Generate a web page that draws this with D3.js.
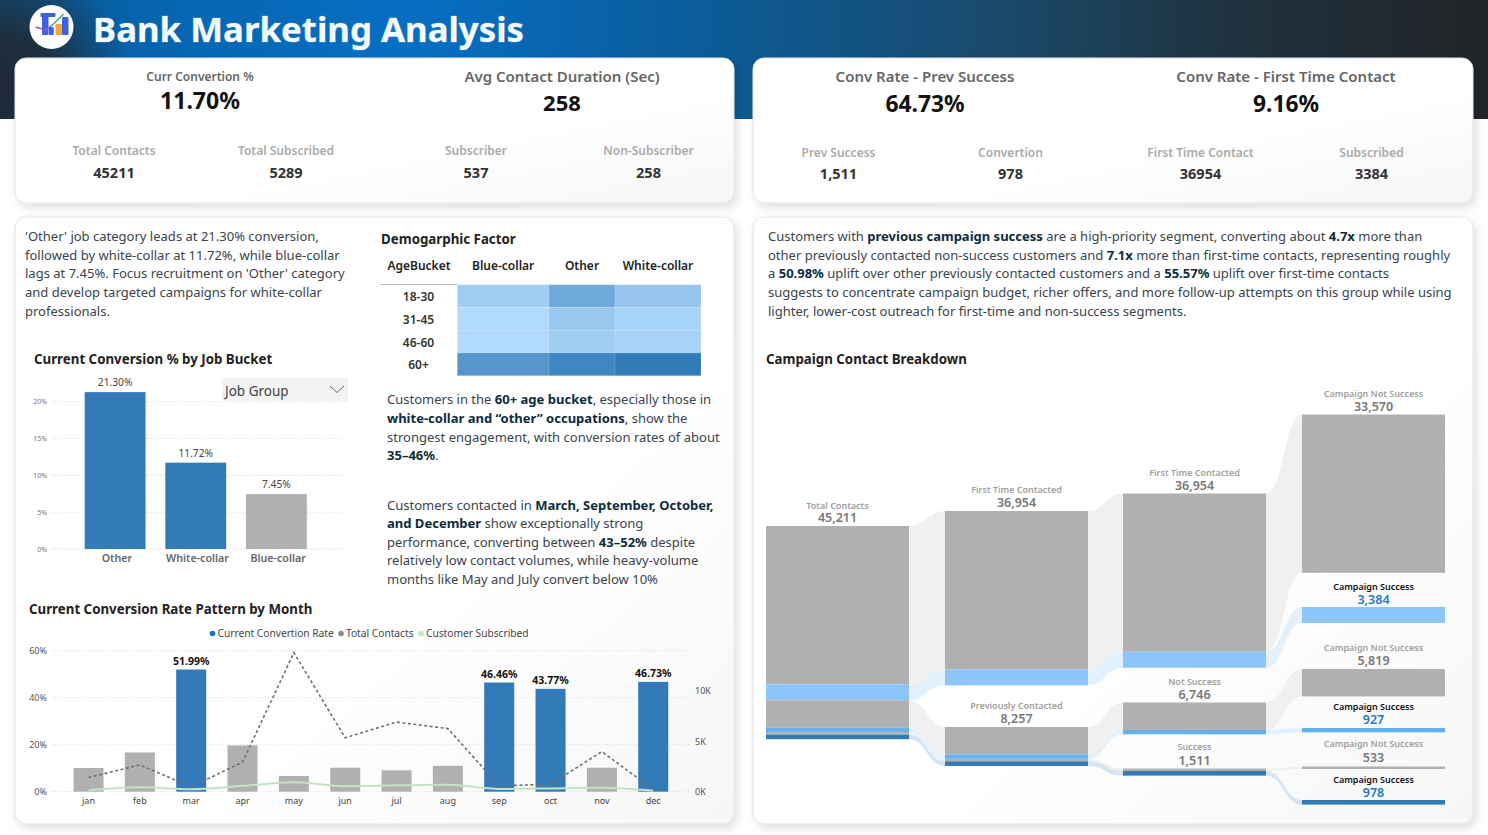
<!DOCTYPE html>
<html><head><meta charset="utf-8">
<script src="https://cdn.jsdelivr.net/npm/d3@7"></script>
<style>html,body{margin:0;padding:0;background:#fff;overflow:hidden}svg{display:block}text{font-family:"Noto Sans",sans-serif}</style>
</head><body><svg id="c" width="1488" height="835"></svg>
<script>
// ---------- data ----------
const jobCats = ["Other","White-collar","Blue-collar"];
const jobRates = [21.30,11.72,7.45];
const jobTicks = [0,5,10,15,20];
const ageBuckets = ["18-30","31-45","46-60","60+"];
const heatCols = ["Blue-collar","Other","White-collar"];
const heatBlue = [11.6,6,6,34.8];
const heatOther = [26.6,13.5,11.2,41.3];
const heatWhite = [14.4,9.1,8.8,46];
const months = ["jan","feb","mar","apr","may","jun","jul","aug","sep","oct","nov","dec"];
const monthRate = [10.1,16.7,51.99,19.7,6.7,10.2,9.1,11.0,46.46,43.77,10.2,46.73];
const monthContacts = [1403,2649,477,2932,13766,5341,6895,6247,579,738,3970,214];
const monthSubscribed = [142,441,248,577,925,546,627,688,269,323,403,100];
const topMonths = ["mar","sep","oct","dec"];
const sankeyFirst = [33570,3384];
const sankeyPrev = [5819,927,533,978];
const kpis = [
 ["Curr Convertion %","11.70%"],["Avg Contact Duration (Sec)","258"],
 ["Conv Rate - Prev Success","64.73%"],["Conv Rate - First Time Contact","9.16%"]];
const subKpis = [
 ["Total Contacts","45211"],["Total Subscribed","5289"],["Subscriber","537"],["Non-Subscriber","258"],
 ["Prev Success","1,511"],["Convertion","978"],["First Time Contact","36954"],["Subscribed","3384"]];
const paraLeft = ["'Other' job category leads at 21.30% conversion,","followed by white-collar at 11.72%, while blue-collar","lags at 7.45%. Focus recruitment on 'Other' category","and develop targeted campaigns for white-collar","professionals."];
const paraMid1 = ["Customers in the **60+ age bucket**, especially those in","**white-collar and “other” occupations**, show the","strongest engagement, with conversion rates of about","**35–46%**."];
const paraMid2 = ["Customers contacted in **March, September, October,**","**and December** show exceptionally strong","performance, converting between **43–52%** despite","relatively low contact volumes, while heavy-volume","months like May and July convert below 10%"];
const paraRight = ["Customers with **previous campaign success** are a high-priority segment, converting about **4.7x** more than","other previously contacted non-success customers and **7.1x** more than first-time contacts, representing roughly","a **50.98%** uplift over other previously contacted customers and a **55.57%** uplift over first-time contacts","suggests to concentrate campaign budget, richer offers, and more follow-up attempts on this group while using","lighter, lower-cost outreach for first-time and non-success segments."];

// ---------- helpers ----------
const svg = d3.select("#c");
const defs = svg.append("defs");
const hg = defs.append("linearGradient").attr("id","hdr").attr("x1",0).attr("x2",1).attr("y1",0).attr("y2",0);
[[0,"#0f4f80"],[0.09,"#0664ad"],[0.27,"#066fc4"],[0.47,"#0b5c9a"],[0.67,"#1a4a6c"],[0.82,"#1f3340"],[1,"#222427"]].forEach(s=>
  hg.append("stop").attr("offset",s[0]).attr("stop-color",s[1]));
const hl = defs.append("radialGradient").attr("id","hdrL").attr("gradientUnits","userSpaceOnUse").attr("cx",0).attr("cy",85).attr("r",130);
hl.append("stop").attr("offset","0%").attr("stop-color","#20293a").attr("stop-opacity",1);
hl.append("stop").attr("offset","35%").attr("stop-color","#1f2c38").attr("stop-opacity",.95);
hl.append("stop").attr("offset","100%").attr("stop-color","#1f2c38").attr("stop-opacity",0);
const cg = defs.append("linearGradient").attr("id","card").attr("x1",0).attr("y1",0).attr("x2",1).attr("y2",1);
cg.append("stop").attr("offset","0%").attr("stop-color","#ffffff");
cg.append("stop").attr("offset","60%").attr("stop-color","#ffffff");
cg.append("stop").attr("offset","100%").attr("stop-color","#f6f6f7");
const sh = defs.append("filter").attr("id","shadow").attr("x","-5%").attr("y","-5%").attr("width","110%").attr("height","115%");
sh.append("feDropShadow").attr("dx",3).attr("dy",4).attr("stdDeviation",5).attr("flood-color","#000").attr("flood-opacity",0.13);

function txt(x,y,s,o={}){
  return svg.append("text").attr("x",x).attr("y",y-1).attr("text-anchor",o.a||"middle").attr("dominant-baseline","central")
    .attr("font-size",o.s||12).attr("font-weight",o.w||400).attr("fill",o.c||"#333").text(s);
}
function para(x,ys,lines,size){
  lines.forEach((l,i)=>{
    const t = svg.append("text").attr("x",x).attr("y",ys[i]-1).attr("dominant-baseline","central").attr("font-size",size).attr("fill","#39444c");
    l.split("**").forEach((p,j)=>{ if(p) t.append("tspan").attr("font-weight",j%2?700:400).attr("fill",j%2?"#0d2c3c":"#39444c").text(p); });
  });
}

// ---------- header and cards ----------
svg.append("rect").attr("width",1488).attr("height",119).attr("fill","url(#hdr)");
svg.append("rect").attr("width",140).attr("height",119).attr("fill","url(#hdrL)");
[[15,58,719,145],[753,58,720,145],[15,217,719,607],[753,217,720,607]].forEach(r=>{
  svg.append("rect").attr("x",r[0]).attr("y",r[1]).attr("width",r[2]).attr("height",r[3]).attr("rx",11)
    .attr("fill","url(#card)").attr("stroke","#e2e4e6").attr("filter","url(#shadow)");
});
// logo
const logo = svg.append("g").attr("transform","translate(51.5,27)");
logo.append("circle").attr("r",22).attr("fill","#fdfeff");
[[-9.5,-14,6.5,22,"#3f62dc"],[-11,-14,15,4,"#3f62dc"],[-2.7,0,5,8,"#3f62dc"],[10.5,-10,6.5,18,"#3f62dc"],[4,-3,6.5,11,"#f0a63c"]].forEach(b=>
  logo.append("rect").attr("x",b[0]).attr("y",b[1]).attr("width",b[2]).attr("height",b[3]).attr("rx",1).attr("fill",b[4]));
logo.append("path").attr("d",d3.line()([[-16,0],[-6,3],[2,-3]])).attr("fill","none").attr("stroke","#8a5bc4").attr("stroke-width",1.5);
logo.append("path").attr("d",d3.line()([[2,-3],[12,-13]])).attr("fill","none").attr("stroke","#3fae6a").attr("stroke-width",1.5);
svg.append("text").attr("x",93).attr("y",28).attr("dominant-baseline","central").attr("font-size",34.8).attr("font-weight",700).attr("fill","#f4fbff").attr("stroke","rgba(255,255,255,.25)").attr("stroke-width",1).text("Bank Marketing Analysis");

// ---------- KPIs ----------
const kpiX=[200,562,925,1286], kpiLY=[77,77,77,77], kpiVY=[101,103,104,104], kpiLS=[12,15,15,15], kpiVS=[23,22,22.8,22.8];
kpis.forEach((k,i)=>{
  txt(kpiX[i],kpiLY[i],k[0],{s:kpiLS[i],w:600,c:"#666"});
  txt(kpiX[i],kpiVY[i],k[1],{s:kpiVS[i],w:700,c:"#111"});
});
const subX=[114,286,476,648.5,838.5,1010.5,1200.5,1371.5];
subKpis.forEach((k,i)=>{
  txt(subX[i],i<4?151:153,k[0],{s:12,w:600,c:"#aaa"});
  txt(subX[i],i<4?173:174,k[1],{s:14.5,w:700,c:"#333"});
});

// ---------- text panels ----------
const TS=13.02;
para(25,[237,255.5,274,293,311.5],paraLeft,TS);
para(387,[400,419,437.5,456],paraMid1,TS);
para(387,[505.5,524,542.5,561,579.5],paraMid2,TS);
para(768,[237,255.5,274,292.5,311.5],paraRight,TS);
const titleOpts={s:13.3,w:700,c:"#222",a:"start"};
txt(34,360,"Current Conversion % by Job Bucket",titleOpts);
txt(381,240,"Demogarphic Factor",titleOpts);
txt(29,610,"Current Conversion Rate Pattern by Month",titleOpts);
txt(766,360,"Campaign Contact Breakdown",titleOpts);

// ---------- job bar chart ----------
const jx = d3.scaleBand().domain(jobCats).range([75,316.5]).paddingInner(0.245).paddingOuter(0.12);
const jy = d3.scaleLinear().domain([0,20]).range([549,401.7]);
const jg = svg.append("g");
jg.append("g").selectAll("line").data(jobTicks).join("line").attr("x1",52).attr("x2",343)
  .attr("y1",d=>jy(d)).attr("y2",d=>jy(d)).attr("stroke","#d4d4d4").attr("stroke-dasharray","1 2");
jg.append("g").selectAll("text").data(jobTicks).join("text").attr("x",47).attr("y",d=>jy(d)).attr("text-anchor","end")
  .attr("dominant-baseline","central").attr("font-size",7).attr("fill","#777").text(d=>d+"%");
jg.append("g").selectAll("rect").data(jobCats).join("rect").attr("x",d=>jx(d)).attr("width",jx.bandwidth())
  .attr("y",(d,i)=>jy(jobRates[i])).attr("height",(d,i)=>jy(0)-jy(jobRates[i])).attr("fill",d=>d==="Blue-collar"?"#b0b0b0":"#327bb8");
jg.append("g").selectAll("text").data(jobCats).join("text").attr("x",d=>jx(d)+jx.bandwidth()/2).attr("y",(d,i)=>jy(jobRates[i])-10)
  .attr("text-anchor","middle").attr("dominant-baseline","central").attr("font-size",10.2).attr("fill","#444").text((d,i)=>jobRates[i].toFixed(2)+"%");
jg.append("g").selectAll("text").data(jobCats).join("text").attr("x",d=>jx(d)+jx.bandwidth()/2+1.8).attr("y",558)
  .attr("text-anchor","middle").attr("dominant-baseline","central").attr("font-size",10.7).attr("font-weight",600).attr("fill","#666").text(d=>d);
svg.append("rect").attr("x",222).attr("y",378).attr("width",126).attr("height",24).attr("fill","#f3f3f3");
txt(225,392,"Job Group",{a:"start",s:13.5,c:"#444"});
svg.append("path").attr("d",d3.line()([[330,386],[337,392.5],[344,386]])).attr("fill","none").attr("stroke","#666");

// ---------- heat table ----------
const heatColor = d3.scaleLinear().domain([6,46]).range(["#b1dafc","#317bb9"]);
const heatVals=[heatBlue,heatOther,heatWhite];
const hx = d3.scaleOrdinal().domain(heatCols).range([457.3,549,615]);
const hw = d3.scaleOrdinal().domain(heatCols).range([91.7,66,86]);
const hy = d3.scaleBand().domain(ageBuckets).range([284.7,375.7]);
heatCols.forEach((c,ci)=>{
  svg.append("g").selectAll("rect").data(ageBuckets).join("rect").attr("x",hx(c)).attr("width",hw(c)).attr("y",d=>hy(d)).attr("height",hy.bandwidth())
    .attr("fill",(d,i)=>heatColor(heatVals[ci][i])).attr("stroke","#ffffff").attr("stroke-opacity",.12);
  txt(hx(c)+hw(c)/2,266,c,{s:12,w:600,c:"#222"});
});
txt(419,266,"AgeBucket",{s:12,w:600,c:"#222"});
svg.append("g").selectAll("text").data(ageBuckets).join("text").attr("x",418.5).attr("y",d=>hy(d)+hy.bandwidth()/2+.5).attr("text-anchor","middle")
  .attr("dominant-baseline","central").attr("font-size",12).attr("font-weight",600).attr("fill","#333").text(d=>d);
svg.append("line").attr("x1",380).attr("x2",457).attr("y1",284.5).attr("y2",284.5).attr("stroke","#bbb");

// ---------- monthly combo ----------
const mx = d3.scaleBand().domain(months).range([62.85,678.9]).paddingInner(0.415).paddingOuter(0.2075);
const my = d3.scaleLinear().domain([0,60]).range([791.7,650.7]);
const my2 = d3.scaleLinear().domain([0,10000]).range([791.7,690.7]);
const mc = d=>mx(d)+mx.bandwidth()/2;
const mg = svg.append("g");
const lt=[0,20,40,60], rt=[0,5000,10000];
mg.append("g").selectAll("line").data(lt).join("line").attr("x1",52).attr("x2",690).attr("y1",d=>my(d)).attr("y2",d=>my(d)).attr("stroke","#d8d8d8").attr("stroke-dasharray","1 2");
mg.append("g").selectAll("text").data(lt).join("text").attr("x",47).attr("y",d=>my(d)).attr("text-anchor","end").attr("dominant-baseline","central").attr("font-size",9).attr("fill","#555").text(d=>d+"%");
mg.append("g").selectAll("text").data(rt).join("text").attr("x",695).attr("y",d=>my2(d)).attr("dominant-baseline","central").attr("font-size",9).attr("fill","#555").text(d=>(d/1000)+"K");
mg.append("g").selectAll("rect").data(months).join("rect").attr("x",d=>mx(d)).attr("width",mx.bandwidth())
  .attr("y",(d,i)=>my(monthRate[i])).attr("height",(d,i)=>my(0)-my(monthRate[i])).attr("fill",d=>topMonths.includes(d)?"#327bb8":"#b0b0b0");
mg.append("path").datum(monthContacts).attr("fill","none").attr("stroke","#6f6f6f").attr("stroke-width",1.6).attr("stroke-dasharray","3 2.5")
  .attr("d",d3.line().x((d,i)=>mc(months[i])).y(d=>my2(d)));
mg.append("path").datum(monthSubscribed).attr("fill","none").attr("stroke","#c3e3c8").attr("stroke-width",2)
  .attr("d",d3.line().curve(d3.curveMonotoneX).x((d,i)=>mc(months[i])).y(d=>my2(d)));
mg.append("g").selectAll("text").data(months.filter(m=>topMonths.includes(m))).join("text").attr("x",mc).attr("y",d=>my(monthRate[months.indexOf(d)])-9)
  .attr("text-anchor","middle").attr("dominant-baseline","central").attr("font-size",10.5).attr("font-weight",700).attr("fill","#111").text(d=>monthRate[months.indexOf(d)].toFixed(2)+"%");
mg.append("g").selectAll("text").data(months).join("text").attr("x",mc).attr("y",800).attr("text-anchor","middle").attr("dominant-baseline","central").attr("font-size",9).attr("fill","#444").text(d=>d);
[[212.5,"#1f6fbf",217.5,"Current Convertion Rate"],[341,"#8a8a8a",346,"Total Contacts"],[421,"#c3e3c8",426,"Customer Subscribed"]].forEach(l=>{
  svg.append("circle").attr("cx",l[0]).attr("cy",633.5).attr("r",2.8).attr("fill",l[1]);
  txt(l[2],634,l[3],{a:"start",s:10.2,c:"#444"});
});

// ---------- sankey ----------
const sk = d3.scaleLinear().domain([0,45211]).range([0,213.2]);
const typeColors = {g:"#b0b0b0",l:"#8cc5f9",m:"#64b0f0",d:"#3279b5"};
const linkColors = {g:"#f0f0f0",l:"#e3f1fd",m:"#e3f1fd",d:"#d5e4f2"};
const F=sankeyFirst, P=sankeyPrev;
const columns=[{x:766},{x:945},{x:1123},{x:1302}];
const W=143;
const nodes=[
 {c:0,top:526,segs:[[F[0],"g"],[F[1],"l"],[P[0],"g"],[P[1],"m"],[P[2],"g"],[P[3],"d"]],label:"Total Contacts",ly:506,vy:518.5},
 {c:1,top:511,segs:[[F[0],"g"],[F[1],"l"]],label:"First Time Contacted",ly:490,vy:503},
 {c:1,top:727,segs:[[P[0],"g"],[P[1],"m"],[P[2],"g"],[P[3],"d"]],label:"Previously Contacted",ly:706,vy:719},
 {c:2,top:493.5,segs:[[F[0],"g"],[F[1],"l"]],label:"First Time Contacted",ly:473,vy:486},
 {c:2,top:702.5,segs:[[P[0],"g"],[P[1],"m"]],label:"Not Success",ly:682,vy:695},
 {c:2,top:768.5,segs:[[P[2],"g"],[P[3],"d"]],label:"Success",ly:747,vy:761},
 {c:3,top:414.5,segs:[[F[0],"g"]],label:"Campaign Not Success",ly:394,vy:407},
 {c:3,top:607,segs:[[F[1],"l"]],label:"Campaign Success",ly:587,vy:600,win:1},
 {c:3,top:669,segs:[[P[0],"g"]],label:"Campaign Not Success",ly:648,vy:661},
 {c:3,top:728,segs:[[P[1],"m"]],label:"Campaign Success",ly:707,vy:720,win:1},
 {c:3,top:766.5,segs:[[P[2],"g"]],label:"Campaign Not Success",ly:744,vy:758},
 {c:3,top:800,segs:[[P[3],"d"]],label:"Campaign Success",ly:780,vy:793,win:1}
];
const allSegs={};
nodes.forEach(n=>{ let y=n.top; n.total=d3.sum(n.segs,s=>s[0]);
  n.placed=n.segs.map(s=>{const p={v:s[0],t:s[1],y0:y,y1:y+sk(s[0]),x0:columns[n.c].x,x1:columns[n.c].x+W}; y=p.y1; return p;});
  (allSegs[n.c]=allSegs[n.c]||[]).push(...n.placed);
});
const area=d3.area().curve(d3.curveBumpX).x(d=>d.x).y0(d=>d.y0).y1(d=>d.y1);
const lg=svg.append("g");
[0,1,2].forEach(c=>{
  allSegs[c].forEach(a=>{
    const b=allSegs[c+1].find(s=>s.v===a.v);
    lg.append("path").attr("fill",linkColors[a.t]).attr("d",area([{x:a.x1,y0:a.y0,y1:a.y1},{x:b.x0,y0:b.y0,y1:b.y1}]));
  });
});
const ng=svg.append("g");
nodes.forEach(n=>{
  ng.append("g").selectAll("rect").data(n.placed).join("rect").attr("x",d=>d.x0).attr("width",d=>d.x1-d.x0).attr("y",d=>d.y0).attr("height",d=>d.y1-d.y0).attr("fill",d=>typeColors[d.t]);
  const cx=columns[n.c].x+W/2;
  txt(cx,n.ly,n.label,{s:9,w:600,c:n.win?"#111":"#a0a0a0"});
  txt(cx,n.vy,d3.format(",")(n.total),{s:12.5,w:600,c:n.win?"#2277cc":"#777"});
});
</script></body></html>
